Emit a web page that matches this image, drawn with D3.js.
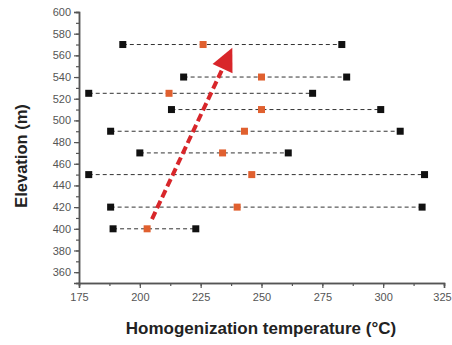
<!DOCTYPE html>
<html>
<head>
<meta charset="utf-8">
<script src="https://cdn.jsdelivr.net/npm/d3@7"></script>
<style>
  body { margin: 0; background: #fff; }
  svg { font-family: "Liberation Sans", Arial, sans-serif; }
</style>
</head>
<body>
<svg width="452" height="345"></svg>
<script>
// elevation of each inclusion group (m)
const elevation = [570, 540, 525, 510, 490, 470, 450, 420, 400];
// homogenization temperatures (°C): min, mean, max
const tMin  = [193, 218, 179, 213, 188, 200, 179, 188, 189];
const tMean = [226, 250, 212, 250, 243, 234, 246, 240, 203];
const tMax  = [283, 285, 271, 299, 307, 261, 317, 316, 223];
// trend arrow, from tail to tip
const arrowT = [205, 238];
const arrowE = [409, 567];

const xTicks = [175, 200, 225, 250, 275, 300, 325];
const yTicks = [360, 380, 400, 420, 440, 460, 480, 500, 520, 540, 560, 580, 600];

const margin = {top: 12, right: 8, bottom: 62, left: 79},
      width = 452 - margin.left - margin.right,
      height = 345 - margin.top - margin.bottom;

const svg = d3.select("svg")
  .append("g")
  .attr("transform", `translate(${margin.left},${margin.top})`);

const x = d3.scaleLinear().domain([175, 325]).range([0, 365]);
const y = d3.scaleLinear().domain([350, 600]).range([271, 0]);

const axisColor = "#555";
const labelColor = "#555";

// minor ticks, then major ones with labels
const gx = svg.append("g").attr("transform", `translate(0,271)`);
gx.call(d3.axisBottom(x).tickValues(d3.range(175, 326, 12.5)).tickSize(3).tickFormat(""));
gx.append("g").call(d3.axisBottom(x).tickValues(xTicks).tickSize(5).tickPadding(5).tickFormat(d3.format("d")));
gx.selectAll("path.domain").attr("stroke", axisColor).attr("stroke-width", 1.5);
gx.selectAll("line").attr("stroke", axisColor).attr("stroke-width", 1.2);
gx.selectAll("text").attr("fill", labelColor).style("font-size", "11px");
gx.selectAll("text").filter(d => d === 325).attr("dx", -2);

const gy = svg.append("g");
gy.call(d3.axisLeft(y).tickValues(d3.range(350, 601, 10)).tickSize(3).tickFormat(""));
gy.append("g").call(d3.axisLeft(y).tickValues(yTicks).tickSize(5).tickPadding(3).tickFormat(d3.format("d")));
gy.selectAll("path.domain").attr("stroke", axisColor).attr("stroke-width", 1.5);
gy.selectAll("line").attr("stroke", axisColor).attr("stroke-width", 1.2);
gy.selectAll("text").attr("fill", labelColor).style("font-size", "11px");

// range lines
const rows = elevation.map((e, i) => ({e, min: tMin[i], mean: tMean[i], max: tMax[i]}));

svg.append("g").selectAll("line")
  .data(rows).enter().append("line")
  .attr("x1", d => x(d.min)).attr("x2", d => x(d.max))
  .attr("y1", d => y(d.e)).attr("y2", d => y(d.e))
  .attr("stroke", "#333").attr("stroke-width", 1)
  .attr("stroke-dasharray", "4,3");

// arrow
const ax1 = x(arrowT[0]), ay1 = y(arrowE[0]), ax2 = x(arrowT[1]), ay2 = y(arrowE[1]);
const ang = Math.atan2(ay2 - ay1, ax2 - ax1);
const headLen = 23, headW = 11;
const bx = ax2 - headLen * Math.cos(ang), by = ay2 - headLen * Math.sin(ang);
svg.append("line")
  .attr("x1", ax1).attr("y1", ay1)
  .attr("x2", bx + 2 * Math.cos(ang)).attr("y2", by + 2 * Math.sin(ang))
  .attr("stroke", "#d8262a").attr("stroke-width", 4)
  .attr("stroke-dasharray", "8,4");
svg.append("path")
  .attr("d", `M${ax2},${ay2}L${bx - headW * Math.sin(ang)},${by + headW * Math.cos(ang)}L${bx + headW * Math.sin(ang)},${by - headW * Math.cos(ang)}Z`)
  .attr("fill", "#d8262a");

// end markers
const s = 7;
svg.append("g").selectAll("rect")
  .data(rows.flatMap(d => [{t: d.min, e: d.e}, {t: d.max, e: d.e}]))
  .enter().append("rect")
  .attr("x", d => x(d.t) - s / 2).attr("y", d => y(d.e) - s / 2)
  .attr("width", s).attr("height", s)
  .attr("fill", "#111");

svg.append("g").selectAll("rect")
  .data(rows).enter().append("rect")
  .attr("x", d => x(d.mean) - s / 2).attr("y", d => y(d.e) - s / 2)
  .attr("width", s).attr("height", s)
  .attr("fill", "#e0602f");

// axis titles
svg.append("text")
  .attr("x", 182).attr("y", 322)
  .attr("text-anchor", "middle")
  .style("font-size", "17px").style("font-weight", "bold").attr("fill", "#222")
  .text("Homogenization temperature (°C)");

svg.append("text")
  .attr("transform", "rotate(-90)")
  .attr("x", -144).attr("y", -52)
  .attr("text-anchor", "middle")
  .style("font-size", "16.5px").style("font-weight", "bold").attr("fill", "#222")
  .text("Elevation (m)");
</script>
</body>
</html>
